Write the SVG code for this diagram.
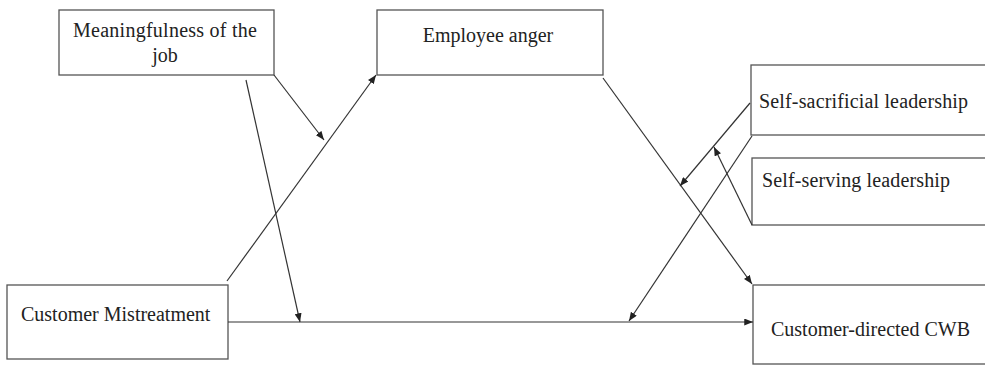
<svg xmlns="http://www.w3.org/2000/svg" width="985" height="365" viewBox="0 0 985 365">
<style>
.box{fill:#fff;stroke:#555;stroke-width:1.3}
.lbl{font-family:"Liberation Serif","Times New Roman",serif;font-size:20px;fill:#222}
.c{fill:none;stroke:#333;stroke-width:1.2}
</style>
<defs>
<marker id="ah" viewBox="0 0 10 8" refX="10" refY="4" markerWidth="9" markerHeight="7" markerUnits="userSpaceOnUse" orient="auto">
<path d="M0,0 L10,4 L0,8 Z" fill="#222"/>
</marker>
</defs>
<rect width="985" height="365" fill="#fff"/>
<g id="meaningfulness">
<rect class="box" x="59" y="10" width="215" height="65"/>
<text class="lbl" x="165" y="37" text-anchor="middle" textLength="184" lengthAdjust="spacing">Meaningfulness of the</text>
<text class="lbl" x="165" y="62" text-anchor="middle">job</text>
</g>
<g id="anger">
<rect class="box" x="377" y="10" width="226" height="65"/>
<text class="lbl" x="488" y="42" text-anchor="middle">Employee anger</text>
</g>
<g id="sacrificial">
<rect class="box" x="751" y="65" width="250" height="70"/>
<text class="lbl" x="759" y="108" textLength="209" lengthAdjust="spacing">Self-sacrificial leadership</text>
</g>
<g id="serving">
<rect class="box" x="752" y="158" width="250" height="67"/>
<text class="lbl" x="762" y="187" textLength="188" lengthAdjust="spacing">Self-serving leadership</text>
</g>
<g id="mistreatment">
<rect class="box" x="7" y="285" width="221" height="74"/>
<text class="lbl" x="21" y="321">Customer Mistreatment</text>
</g>
<g id="cwb">
<rect class="box" x="753" y="285" width="250" height="79"/>
<text class="lbl" x="771" y="336">Customer-directed CWB</text>
</g>
<g id="connectors">
<line class="c" x1="227" y1="281" x2="376" y2="75" marker-end="url(#ah)"/>
<line class="c" x1="274" y1="75" x2="324" y2="140" marker-end="url(#ah)"/>
<line class="c" x1="246" y1="80" x2="300" y2="322" marker-end="url(#ah)"/>
<line class="c" x1="228" y1="322" x2="753" y2="322" marker-end="url(#ah)"/>
<line class="c" x1="603" y1="78" x2="752" y2="284" marker-end="url(#ah)"/>
<line class="c" x1="750" y1="103" x2="680" y2="186" marker-end="url(#ah)"/>
<line class="c" x1="752" y1="136" x2="629" y2="321" marker-end="url(#ah)"/>
<line class="c" x1="752" y1="225" x2="714" y2="147" marker-end="url(#ah)"/>
</g>
</svg>
